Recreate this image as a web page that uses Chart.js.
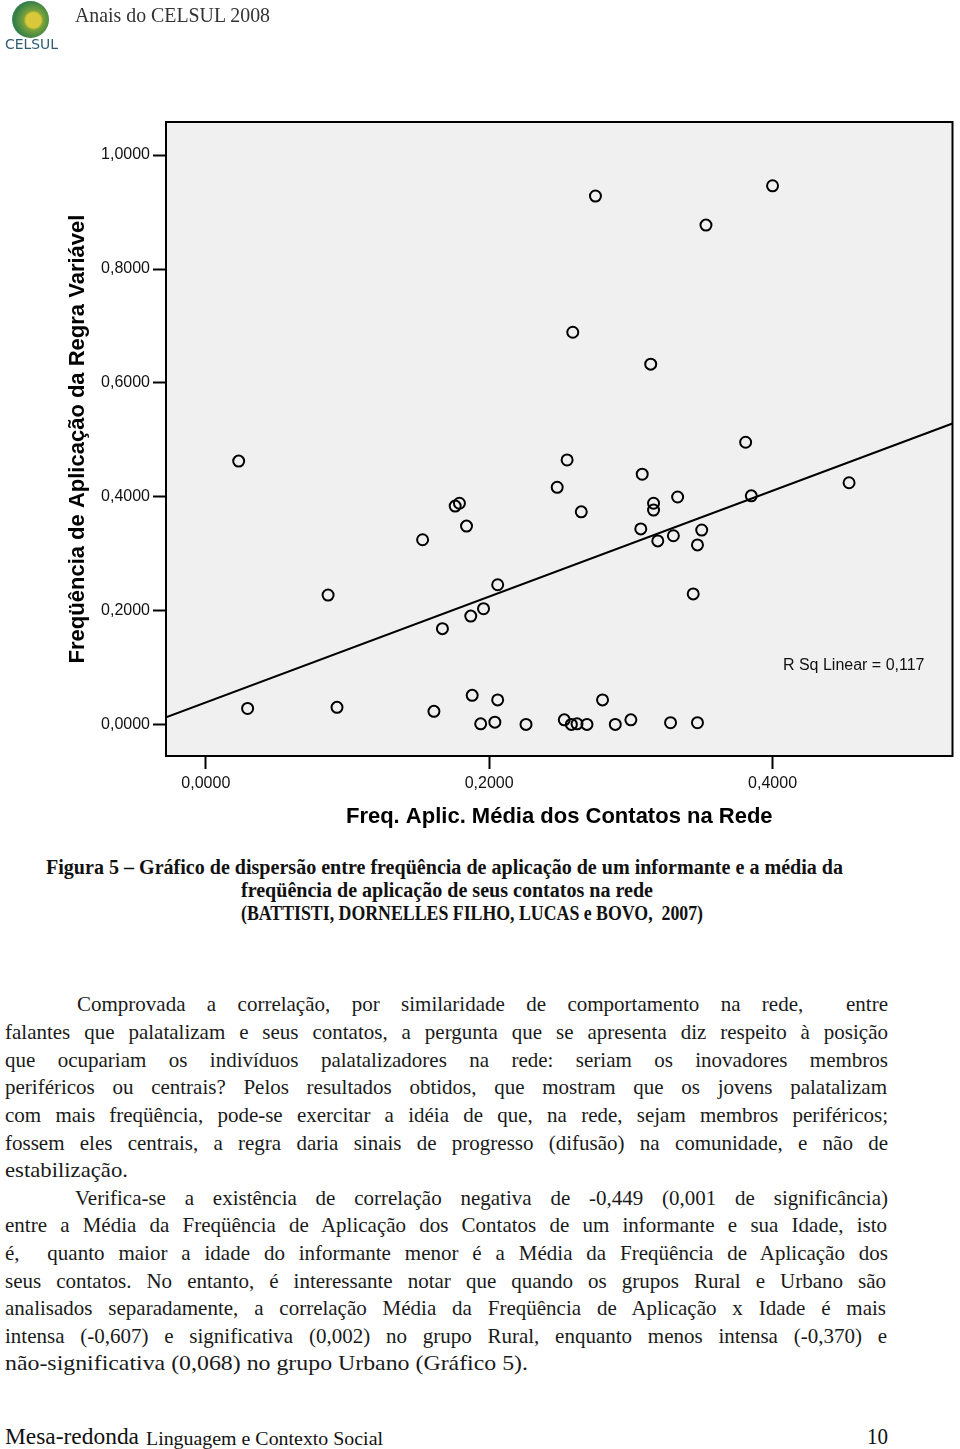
<!DOCTYPE html>
<html><head><meta charset="utf-8">
<script src="https://cdn.jsdelivr.net/npm/chart.js@4.4.0/dist/chart.umd.min.js"></script>
<style>
html,body{margin:0;padding:0;background:#fff;}
body{width:960px;height:1449px;position:relative;overflow:hidden;}
#wrap{position:absolute;left:0;top:0;width:960px;height:850px;}
.t{position:absolute;white-space:pre;transform-origin:0 50%;line-height:1;}
#emblem{position:absolute;left:12px;top:1px;width:37px;height:37px;border-radius:50%;
  background:radial-gradient(circle at 58% 52%, #d9c93a 0 26%, #7aa23a 34%, #2f7d4a 68%, #b5c978 100%);}
</style></head>
<body>
<div id="emblem"></div>
<div id="wrap"><canvas id="c" width="960" height="850"></canvas></div>
<script>
// ---------------- data ----------------
const xTitle = "Freq. Aplic. Média dos Contatos na Rede";
const yTitle = "Freqüência de Aplicação da Regra Variável";
const rsqLabel = "R Sq Linear = 0,117";
const xTickValues = [0, 0.2, 0.4];
const yTickValues = [0, 0.2, 0.4, 0.6, 0.8, 1.0];
const xRange = [-0.0281, 0.527];
const yRange = [-0.0544, 1.0579];

const pointX = [0.0232,0.0295,0.0863,0.0926,0.153,0.161,0.167,0.176,0.179,0.184,0.187,0.188,0.194,0.196,0.204,0.206,0.206,0.226,
  0.248,0.253,0.255,0.258,0.259,0.262,0.265,0.269,0.275,0.280,0.289,0.300,0.307,0.308,0.314,0.316,0.316,0.319,0.328,0.330,0.333,
  0.344,0.347,0.347,0.350,0.353,0.381,0.385,0.400,0.454];
const pointY = [0.463,0.029,0.228,0.031,0.325,0.024,0.169,0.384,0.389,0.349,0.191,0.052,0.002,0.204,0.005,0.044,0.246,0.001,
  0.417,0.009,0.465,0.001,0.689,0.002,0.374,0.001,0.928,0.044,0.001,0.009,0.344,0.440,0.633,0.377,0.389,0.323,0.004,0.332,0.400,
  0.230,0.316,0.004,0.342,0.877,0.496,0.402,0.946,0.425];

const fitX = [-0.0281, 0.527];
const fitY = [0.0135, 0.529];

const fmt = v => Number(v).toFixed(4).replace('.', ',');

// ---------------- chart ----------------
const framePlugin = {
  id: 'frame',
  beforeDraw(chart) {
    const {ctx, chartArea: a} = chart;
    ctx.save();
    ctx.fillStyle = '#f0f0f0';
    ctx.fillRect(a.left, a.top, a.right - a.left, a.bottom - a.top);
    ctx.restore();
  },
  afterDraw(chart) {
    const {ctx, chartArea: a} = chart;
    ctx.save();
    ctx.strokeStyle = '#000';
    ctx.lineWidth = 2;
    ctx.strokeRect(a.left, a.top, a.right - a.left, a.bottom - a.top);
    ctx.fillStyle = '#111';
    ctx.font = '16px "Liberation Sans", Arial, sans-serif';
    ctx.textAlign = 'right';
    ctx.textBaseline = 'middle';
    ctx.fillText(rsqLabel, a.right - 28, 666);
    ctx.restore();
  }
};

const tickFont = {family: '"Liberation Sans", Arial, sans-serif', size: 16};
const titleFont = {family: '"Liberation Sans", Arial, sans-serif', size: 22, weight: 'bold'};

new Chart(document.getElementById('c').getContext('2d'), {
  type: 'scatter',
  data: {
    datasets: [
      {
        type: 'scatter',
        data: pointX.map((x, i) => ({x: x, y: pointY[i]})),
        pointRadius: 5.5, pointHoverRadius: 5.5,
        borderColor: '#000', borderWidth: 2,
        backgroundColor: 'rgba(0,0,0,0)',
        order: 1
      },
      {
        type: 'line',
        data: fitX.map((x, i) => ({x: x, y: fitY[i]})),
        borderColor: '#000', borderWidth: 2,
        pointRadius: 0, fill: false, tension: 0,
        order: 2
      }
    ]
  },
  options: {
    responsive: false, animation: false, devicePixelRatio: 1,
    layout: {padding: {left: 0, top: 122, right: 3, bottom: 0}},
    plugins: {legend: {display: false}, tooltip: {enabled: false}},
    scales: {
      x: {
        type: 'linear', position: 'bottom', min: xRange[0], max: xRange[1],
        afterBuildTicks: s => { s.ticks = xTickValues.map(v => ({value: v})); },
        afterFit: s => { s.height = 94; },
        grid: {drawOnChartArea: false, drawTicks: true, tickLength: 13, tickColor: '#000', tickWidth: 2},
        border: {display: false},
        ticks: {padding: 5, color: '#111', font: tickFont, maxRotation: 0, autoSkip: false, callback: v => fmt(v)},
        title: {display: true, text: xTitle, color: '#000', font: titleFont, padding: {top: 0, bottom: 20}}
      },
      y: {
        type: 'linear', position: 'left', min: yRange[0], max: yRange[1],
        afterBuildTicks: s => { s.ticks = yTickValues.map(v => ({value: v})); },
        afterFit: s => { s.width = 166; },
        grid: {drawOnChartArea: false, drawTicks: true, tickLength: 13, tickColor: '#000', tickWidth: 2},
        border: {display: false},
        ticks: {padding: 3, color: '#111', font: tickFont, autoSkip: false, callback: v => fmt(v)},
        title: {display: true, text: yTitle, color: '#000', font: titleFont, padding: {top: 65, bottom: 0}}
      }
    }
  },
  plugins: [framePlugin]
});

// ---------------- page text ----------------
const SERIF = '"Liberation Serif", "Times New Roman", serif';
const S = 1.0;
function place(sp) {
  const el = document.createElement('div');
  el.className = 't';
  el.textContent = sp.text;
  el.style.font = (sp.weight || 'normal') + ' ' + sp.size + 'px ' + (sp.family || SERIF);
  el.style.color = sp.color || '#1a1a1a';
  el.style.left = sp.x + 'px';
  el.style.top = (sp.cy - sp.size * 0.51) + 'px';
  document.body.appendChild(el);
  const w = el.getBoundingClientRect().width;
  let sx = S;
  if (sp.mode === 'justify') {
    const n = (sp.text.match(/ /g) || []).length;
    if (w * S < sp.w && n > 0) {
      el.style.wordSpacing = ((sp.w / S - w) / n) + 'px';
      sx = S;
    } else sx = sp.w / w;
  } else if (sp.mode === 'fit') {
    sx = sp.w / w;
  }
  el.style.transform = 'scaleX(' + sx + ')';
}

const lines = [
  {text: 'Anais do CELSUL 2008', x: 75, cy: 14, size: 21, mode: 'fit', w: 195, color: '#333'},
  {text: 'CELSUL', x: 5, cy: 43, size: 14, mode: 'fit', w: 53, family: '"DejaVu Sans", sans-serif', color: '#2e5c72'},
  {text: 'Figura 5 – Gráfico de dispersão entre freqüência de aplicação de um informante e a média da', x: 46, cy: 866, size: 20, weight: 'bold', mode: 'fit', w: 797, color: '#111'},
  {text: 'freqüência de aplicação de seus contatos na rede', x: 241, cy: 889, size: 20, weight: 'bold', mode: 'fit', w: 412, color: '#111'},
  {text: '(BATTISTI, DORNELLES FILHO, LUCAS e BOVO,  2007)', x: 241, cy: 912, size: 20, weight: 'bold', mode: 'fit', w: 462, color: '#111'},
  {text: 'Comprovada a correlação, por similaridade de comportamento na rede,  entre', x: 77, cy: 1003, size: 21, mode: 'justify', w: 811},
  {text: 'falantes que palatalizam e seus contatos, a pergunta que se apresenta diz respeito à posição', x: 5, cy: 1031, size: 21, mode: 'justify', w: 883},
  {text: 'que ocupariam os indivíduos palatalizadores na rede: seriam os inovadores membros', x: 5, cy: 1059, size: 21, mode: 'justify', w: 883},
  {text: 'periféricos ou centrais? Pelos resultados obtidos, que mostram que os jovens palatalizam', x: 5, cy: 1086, size: 21, mode: 'justify', w: 882},
  {text: 'com mais freqüência, pode-se exercitar a idéia de que, na rede, sejam membros periféricos;', x: 5, cy: 1114, size: 21, mode: 'justify', w: 883},
  {text: 'fossem eles centrais, a regra daria sinais de progresso (difusão) na comunidade, e não de', x: 5, cy: 1142, size: 21, mode: 'justify', w: 883},
  {text: 'estabilização.', x: 5, cy: 1169, size: 21, mode: 'fit', w: 123},
  {text: 'Verifica-se a existência de correlação negativa de -0,449 (0,001 de significância)', x: 75, cy: 1197, size: 21, mode: 'justify', w: 813},
  {text: 'entre a Média da Freqüência de Aplicação dos Contatos de um informante e sua Idade, isto', x: 5, cy: 1224, size: 21, mode: 'justify', w: 882},
  {text: 'é,  quanto maior a idade do informante menor é a Média da Freqüência de Aplicação dos', x: 5, cy: 1252, size: 21, mode: 'justify', w: 883},
  {text: 'seus contatos. No entanto, é interessante notar que quando os grupos Rural e Urbano são', x: 5, cy: 1280, size: 21, mode: 'justify', w: 881},
  {text: 'analisados separadamente, a correlação Média da Freqüência de Aplicação x Idade é mais', x: 5, cy: 1307, size: 21, mode: 'justify', w: 881},
  {text: 'intensa (-0,607) e significativa (0,002) no grupo Rural, enquanto menos intensa (-0,370) e', x: 5, cy: 1335, size: 21, mode: 'justify', w: 882},
  {text: 'não-significativa (0,068) no grupo Urbano (Gráfico 5).', x: 5, cy: 1362, size: 21, mode: 'fit', w: 523},
  {text: 'Mesa-redonda', x: 5, cy: 1436, size: 23, mode: 'fit', w: 134, color: '#111'},
  {text: 'Linguagem e Contexto Social', x: 146, cy: 1438, size: 19, mode: 'fit', w: 237, color: '#111'},
  {text: '10', x: 867, cy: 1436, size: 23, mode: 'fit', w: 21, color: '#111'}
];
lines.forEach(place);
</script>
</body></html>
